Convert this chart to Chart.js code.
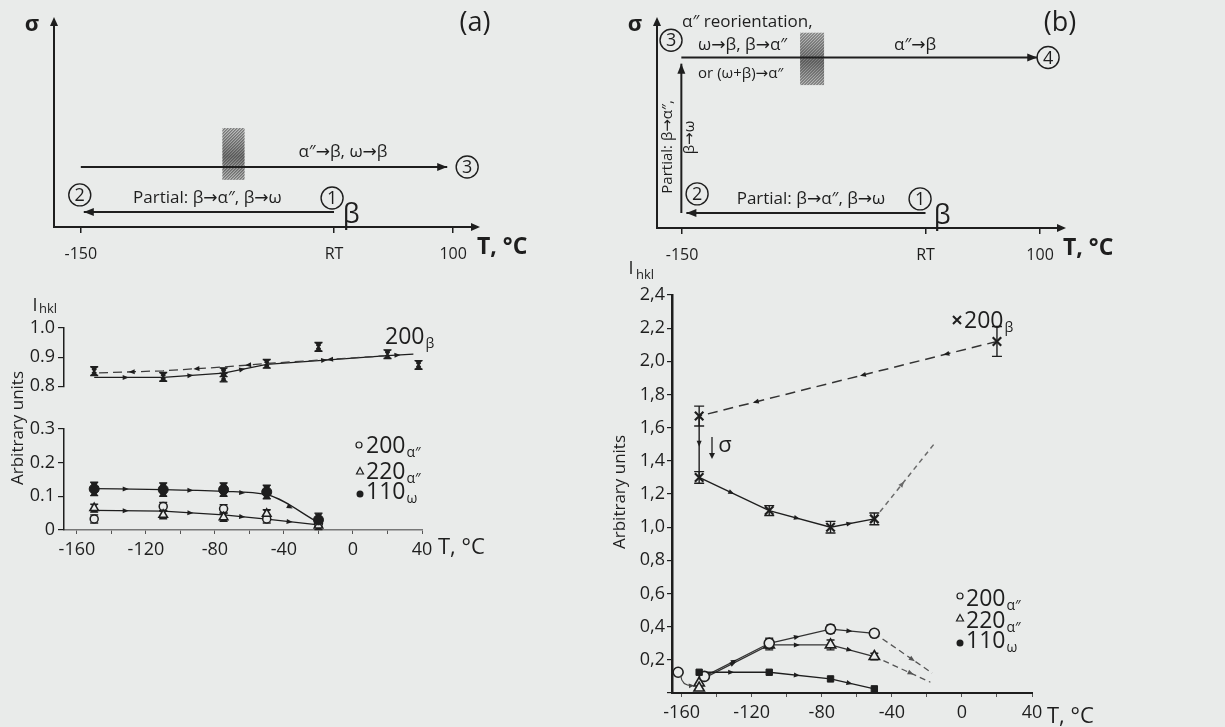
<!DOCTYPE html>
<html>
<head>
<meta charset="utf-8">
<script src="https://cdn.jsdelivr.net/npm/chart.js@4.4.1/dist/chart.umd.min.js"></script>
<style>
  html, body { margin:0; padding:0; }
  body { width:1225px; height:727px; background:#e9ebea; position:relative; overflow:hidden; }
  canvas { position:absolute; }
</style>
</head>
<body>
<canvas id="cA" width="600" height="270" style="left:0px;top:0px"></canvas>
<canvas id="cB" width="625" height="270" style="left:600px;top:0px"></canvas>
<canvas id="cLU" width="600" height="110" style="left:0px;top:290px"></canvas>
<canvas id="cLL" width="600" height="290" style="left:0px;top:290px"></canvas>
<canvas id="cR" width="625" height="472" style="left:600px;top:255px"></canvas>
<script>
const FONT = "'Open Sans', 'DejaVu Sans', sans-serif";
const INK = '#1e1e1e';
const BG = '#e9ebea';

// ---------- schematic panels (a) and (b): temperature T vs stress sigma (arbitrary)
const schemTickT = [-150, 20, 100];
const schemTickLabels = ['-150', 'RT', '100'];
const aCoolT = [20, -148];        const aCoolS = [0.72, 0.72];
const aHeatT = [-150, 96];        const aHeatS = [2.9, 2.9];
const bCoolT = [20, -147];        const bCoolS = [0.72, 0.72];
const bLoadT = [-150.5, -150.5];  const bLoadS = [0.72, 7.9];
const bHeatT = [-150.5, 98];      const bHeatS = [8.2, 8.2];

// ---------- bottom-left plot (strain-free)
const tTicks = [-160,-140,-120,-100,-80,-60,-40,-20,0,20,40];
const tTickLabels = ['-160','','-120','','-80','','-40','','0','','40'];
const luTicks = [0.8, 0.9, 1.0];      const luTickLabels = ['0.8','0.9','1.0'];
const llTicks = [0, 0.1, 0.2, 0.3];   const llTickLabels = ['0','0.1','0.2','0.3'];
const lBetaPtT = [-150,-110,-75,-75,-50,-20,20,38];
const lBetaPtI = [0.852,0.832,0.848,0.830,0.877,0.935,0.910,0.873];
const lBetaCoolT = [20,-50,-75,-110,-150];
const lBetaCoolI = [0.905,0.878,0.866,0.853,0.845];
const lBetaHeatT = [-150,-110,-75,-50,20,35];
const lBetaHeatI = [0.830,0.830,0.845,0.875,0.905,0.910];
const lOmegaT = [-150,-110,-75,-50,-20];
const lOmegaI = [0.122,0.120,0.120,0.113,0.030];
const lOmegaLineI = [0.123,0.120,0.115,0.105,0.022];
const lA200T = [-150,-110,-75,-50,-20];
const lA200I = [0.033,0.070,0.063,0.033,0.020];
const lA220T = [-150,-110,-75,-50,-20];
const lA220I = [0.065,0.045,0.038,0.048,0.013];
const lAlphaLineT = [-150,-110,-75,-50,-20];
const lAlphaLineI = [0.058,0.056,0.045,0.032,0.015];

// ---------- bottom-right plot (constrained)
const rYTicks = [0,0.2,0.4,0.6,0.8,1.0,1.2,1.4,1.6,1.8,2.0,2.2,2.4];
const rYTickLabels = ['','0,2','0,4','0,6','0,8','1,0','1,2','1,4','1,6','1,8','2,0','2,2','2,4'];
const rBetaPtT = [20,-150,-150,-110,-75,-50];
const rBetaPtI = [2.12,1.67,1.30,1.10,1.00,1.05];
const rBetaErr = [0.09,0.06,0.035,0.03,0.035,0.035];
const rBetaCoolT = [20,-150];             const rBetaCoolI = [2.12,1.67];
const rBetaLoadT = [-150,-150];           const rBetaLoadI = [1.67,1.30];
const rBetaHeatT = [-150,-110,-75,-50];   const rBetaHeatI = [1.30,1.10,1.00,1.05];
const rBetaHeat2T = [-50,-16];            const rBetaHeat2I = [1.05,1.50];
const rOmegaT = [-150,-110,-75,-50];      const rOmegaI = [0.125,0.125,0.085,0.025];
const rA200PtT = [-162,-147,-110,-75,-50]; const rA200PtI = [0.125,0.10,0.30,0.385,0.36];
const rA200Err = [0,0.012,0.03,0.025,0.02];
const rA200LineT = [-147,-110,-75,-50];   const rA200LineI = [0.10,0.30,0.385,0.36];
const rA200DashT = [-50,-17];             const rA200DashI = [0.36,0.12];
const rA220PtT = [-150,-150,-110,-75,-50]; const rA220PtI = [0.06,0.03,0.29,0.29,0.22];
const rA220Err = [0,0,0.03,0.03,0.02];
const rA220LineT = [-148,-110,-75,-50];   const rA220LineI = [0.085,0.29,0.29,0.22];
const rA220DashT = [-50,-18];             const rA220DashI = [0.22,0.065];

// ---------- helpers
const pts = (xs, ys) => xs.map((x, i) => ({ x, y: ys[i] }));

function head(ctx, x, y, ang, len, half) {
  ctx.save(); ctx.translate(x, y); ctx.rotate(ang);
  ctx.beginPath(); ctx.moveTo(0, 0); ctx.lineTo(-len, -half); ctx.lineTo(-len, half); ctx.closePath(); ctx.fill();
  ctx.restore();
}
function txt(ctx, s, px, py, size, align, bold, rot) {
  ctx.save(); ctx.translate(px, py); if (rot) ctx.rotate(rot * Math.PI / 180);
  ctx.font = (bold ? 'bold ' : '') + size + 'px ' + FONT;
  ctx.textAlign = align || 'center'; ctx.textBaseline = 'middle'; ctx.fillStyle = INK;
  ctx.fillText(s, 0, 0); ctx.restore();
}
function subTxt(ctx, main, sub, px, py, size, subSize) {
  ctx.save(); ctx.fillStyle = INK; ctx.textAlign = 'left'; ctx.textBaseline = 'alphabetic';
  ctx.font = size + 'px ' + FONT; const base = py + size * 0.36;
  ctx.fillText(main, px, base); const w = ctx.measureText(main).width;
  ctx.font = subSize + 'px ' + FONT; ctx.fillText(sub, px + w + 1, base + subSize * 0.3);
  ctx.restore();
}
function mark(ctx, kind, px, py) {
  ctx.save(); ctx.strokeStyle = INK; ctx.fillStyle = INK; ctx.lineWidth = 1.2;
  ctx.beginPath();
  if (kind === 'circle') { ctx.arc(px, py, 3, 0, 7); ctx.stroke(); }
  if (kind === 'tri') { ctx.moveTo(px, py - 3.5); ctx.lineTo(px + 3.5, py + 3); ctx.lineTo(px - 3.5, py + 3); ctx.closePath(); ctx.stroke(); }
  if (kind === 'dot') { ctx.arc(px, py, 3.5, 0, 7); ctx.fill(); }
  if (kind === 'x') { ctx.lineWidth = 2; ctx.moveTo(px - 4, py - 4); ctx.lineTo(px + 4, py + 4); ctx.moveTo(px + 4, py - 4); ctx.lineTo(px - 4, py + 4); ctx.stroke(); }
  ctx.restore();
}
function circled(ctx, px, py, n) {
  ctx.save(); ctx.beginPath(); ctx.arc(px, py, 11, 0, 2 * Math.PI);
  ctx.lineWidth = 1.4; ctx.strokeStyle = INK; ctx.stroke(); ctx.restore();
  txt(ctx, n, px, py + 1, 18);
}
function hatch(ctx, x0, y0, x1, y1) {
  ctx.save(); ctx.beginPath(); ctx.rect(x0, y0, x1 - x0, y1 - y0); ctx.clip();
  ctx.fillStyle = 'rgba(140,140,140,0.35)'; ctx.fillRect(x0, y0, x1 - x0, y1 - y0);
  const g = ctx.createLinearGradient(0, y0, 0, y1);
  g.addColorStop(0, 'rgba(80,80,80,0.05)'); g.addColorStop(0.55, 'rgba(60,60,60,0.55)'); g.addColorStop(1, 'rgba(80,80,80,0.1)');
  ctx.fillStyle = g; ctx.fillRect(x0, y0, x1 - x0, y1 - y0);
  ctx.strokeStyle = 'rgba(40,40,40,0.7)'; ctx.lineWidth = 1;
  const h = y1 - y0; ctx.beginPath();
  for (let k = -h; k < (x1 - x0) + h; k += 3) { ctx.moveTo(x0 + k, y1); ctx.lineTo(x0 + k + h, y0); }
  ctx.stroke(); ctx.restore();
}

// error bars, mid-line arrows, end arrows
const decoPlugin = {
  id: 'deco',
  beforeDatasetsDraw(chart) {
    const { ctx } = chart; const xs = chart.scales.x, ys = chart.scales.y;
    chart.data.datasets.forEach(ds => {
      if (!ds.err) return;
      ctx.save(); ctx.strokeStyle = INK; ctx.fillStyle = INK; ctx.lineWidth = 1.4;
      ds.data.forEach((p, j) => {
        const e = ds.err[j]; if (!e) return;
        const px = xs.getPixelForValue(p.x), py = ys.getPixelForValue(p.y);
        const t = ys.getPixelForValue(p.y + e), b = ys.getPixelForValue(p.y - e);
        const c = ds.cap || 4;
        ctx.beginPath(); ctx.moveTo(px, t); ctx.lineTo(px, b);
        ctx.moveTo(px - c, t); ctx.lineTo(px + c, t); ctx.moveTo(px - c, b); ctx.lineTo(px + c, b); ctx.stroke();
        if (ds.hourglass) {
          ctx.beginPath(); ctx.moveTo(px - c, t); ctx.lineTo(px + c, t); ctx.lineTo(px, py); ctx.closePath();
          ctx.moveTo(px - c, b); ctx.lineTo(px + c, b); ctx.lineTo(px, py); ctx.closePath(); ctx.fill();
        }
      });
      ctx.restore();
    });
  },
  afterDatasetsDraw(chart) {
    const { ctx } = chart;
    chart.data.datasets.forEach((ds, i) => {
      if (!ds.midArrows && !ds.arrowEnd) return;
      const P = chart.getDatasetMeta(i).data.map(e => ({ x: e.x, y: e.y }));
      ctx.save(); ctx.fillStyle = ds.arrowColor || INK;
      if (ds.midArrows) {
        const fr = ds.arrowFracs || [0.5];
        for (let k = 0; k < P.length - 1; k++) {
          const a = P[k], b = P[k + 1];
          if (Math.hypot(b.x - a.x, b.y - a.y) < 22) continue;
          const ang = Math.atan2(b.y - a.y, b.x - a.x);
          fr.forEach(f => head(ctx, a.x + (b.x - a.x) * f, a.y + (b.y - a.y) * f, ang, 6, 2.5));
        }
      }
      if (ds.arrowEnd) {
        const a = P[P.length - 2], b = P[P.length - 1];
        head(ctx, b.x, b.y, Math.atan2(b.y - a.y, b.x - a.x), 10, 4);
      }
      ctx.restore();
    });
  }
};

// ---------- schematic chart builder
function schematic(id, cfg) {
  const schemPlugin = {
    id: 'schem',
    beforeDatasetsDraw(chart) {
      const { ctx, scales: { x, y } } = chart;
      cfg.hatch.forEach(h => hatch(ctx, x.getPixelForValue(h.t0), y.getPixelForValue(h.s1), x.getPixelForValue(h.t1), y.getPixelForValue(h.s0)));
    },
    afterDraw(chart) {
      const { ctx, chartArea: ca, scales: { x, y } } = chart;
      ctx.save(); ctx.fillStyle = INK;
      head(ctx, ca.left, ca.top - 3, -Math.PI / 2, 9, 4);
      head(ctx, ca.right + 3, ca.bottom, 0, 9, 4);
      ctx.restore();
      cfg.texts.forEach(t => txt(ctx, t.t, x.getPixelForValue(t.x), y.getPixelForValue(t.y), t.size, t.align, t.bold, t.rot));
      cfg.circles.forEach(c => circled(ctx, x.getPixelForValue(c.x), y.getPixelForValue(c.y), c.n));
      txt(ctx, 'σ', ca.left - 22, ca.top + 5, 22, 'center', true);
      txt(ctx, cfg.tag, cfg.tagX, ca.top + 3, 27, 'center');
      txt(ctx, 'T, °C', ca.right, ca.bottom + 20, 23, 'left', true);
    }
  };
  return new Chart(document.getElementById(id), {
    type: 'scatter',
    data: { datasets: cfg.lines.map(l => ({ data: pts(l.t, l.s), showLine: true, borderColor: INK, borderWidth: 2, pointRadius: 0, arrowEnd: true })) },
    options: {
      responsive: false, animation: false, events: [],
      layout: { padding: { left: 0, top: 20, right: cfg.padR, bottom: 0 } },
      plugins: { legend: { display: false }, tooltip: { enabled: false } },
      scales: {
        x: { type: 'linear', min: cfg.xmin, max: 116,
             afterBuildTicks: s => { s.ticks = schemTickT.map(v => ({ value: v })); },
             afterFit: s => { s.height = cfg.xh; },
             ticks: { autoSkip: false, maxRotation: 0, callback: (v, i) => schemTickLabels[i], font: { family: FONT, size: 16 }, color: INK, padding: 12 },
             grid: { display: true, drawOnChartArea: false, drawTicks: true, tickLength: 6, color: INK, lineWidth: 1.5 },
             border: { display: true, color: INK, width: 2 } },
        y: { type: 'linear', min: 0, max: 10,
             afterFit: s => { s.width = cfg.yw; },
             ticks: { display: false }, grid: { display: false },
             border: { display: true, color: INK, width: 2 } }
      }
    },
    plugins: [decoPlugin, schemPlugin]
  });
}

schematic('cA', {
  xmin: -168, yw: 54, xh: 43, padR: 123, tag: '(a)', tagX: 475,
  lines: [{ t: aCoolT, s: aCoolS }, { t: aHeatT, s: aHeatS }],
  hatch: [{ t0: -55, t1: -40, s0: 2.27, s1: 4.78 }],
  texts: [
    { t: 'α″→β, ω→β', x: 26, y: 3.62, size: 17 },
    { t: 'Partial: β→α″, β→ω', x: -65, y: 1.4, size: 17 },
    { t: 'β', x: 31.5, y: 0.58, size: 27 }
  ],
  circles: [{ n: '2', x: -150.7, y: 1.55 }, { n: '1', x: 18.7, y: 1.4 }, { n: '3', x: 109.4, y: 2.9 }]
});

schematic('cB', {
  xmin: -167.5, yw: 57, xh: 42, padR: 162, tag: '(b)', tagX: 460,
  lines: [{ t: bCoolT, s: bCoolS }, { t: bLoadT, s: bLoadS }, { t: bHeatT, s: bHeatS }],
  hatch: [{ t0: -67.6, t1: -50.8, s0: 6.86, s1: 9.4 }],
  texts: [
    { t: 'α″ reorientation,', x: -150, y: 9.9, size: 17, align: 'left' },
    { t: 'ω→β, β→α″', x: -138.8, y: 8.8, size: 17, align: 'left' },
    { t: 'or (ω+β)→α″', x: -138.8, y: 7.44, size: 15, align: 'left' },
    { t: 'α″→β', x: 12.7, y: 8.8, size: 17 },
    { t: 'Partial: β→α″, β→ω', x: -60, y: 1.4, size: 17 },
    { t: 'β', x: 31.6, y: 0.58, size: 27 },
    { t: 'Partial: β→α″,', x: -159.8, y: 3.9, size: 15, rot: -90 },
    { t: 'β→ω', x: -144.4, y: 4.35, size: 15, rot: -90 }
  ],
  circles: [{ n: '3', x: -157.7, y: 9.03 }, { n: '4', x: 105.6, y: 8.2 }, { n: '2', x: -139.5, y: 1.64 }, { n: '1', x: 16.2, y: 1.4 }]
});

// ---------- plot options builder
function plotOpts(o) {
  return {
    responsive: false, animation: false, events: [],
    layout: { padding: o.padding },
    plugins: { legend: { display: false }, tooltip: { enabled: false } },
    scales: {
      x: { type: 'linear', min: o.xmin, max: o.xmax, display: o.xDisplay,
           afterBuildTicks: s => { s.ticks = tTicks.map(v => ({ value: v })); },
           afterFit: s => { if (o.xHeight) s.height = o.xHeight; },
           ticks: { autoSkip: false, maxRotation: 0, callback: (v, i) => tTickLabels[i], font: { family: FONT, size: 18 }, color: INK, padding: o.xPad },
           grid: { drawOnChartArea: false, tickLength: 4, color: '#555', lineWidth: 1 },
           border: { color: o.xBorder, width: o.xBorderW, dash: o.xDash } },
      y: { type: 'linear', min: o.ymin, max: o.ymax,
           afterBuildTicks: s => { s.ticks = o.yTicks.map(v => ({ value: v })); },
           afterFit: s => { s.width = o.yWidth; },
           ticks: { autoSkip: false, callback: (v, i) => o.yLabels[i], font: { family: FONT, size: 18 }, color: INK, padding: o.yPad },
           grid: { drawOnChartArea: false, tickLength: o.yTickLen, color: INK, lineWidth: 1.2 },
           border: { color: o.yBorder, width: o.yBorderW, dash: o.yDash } }
    }
  };
}

// ---------- bottom-left upper (200 beta)
new Chart(document.getElementById('cLU'), {
  type: 'scatter',
  data: { datasets: [
    { data: pts(lBetaPtT, lBetaPtI), err: lBetaPtT.map(() => 0.015), hourglass: true, pointStyle: 'crossRot', pointRadius: 3, borderColor: INK, borderWidth: 1.5, order: 0 },
    { data: pts(lBetaCoolT, lBetaCoolI), showLine: true, borderDash: [9, 5], borderColor: '#3c3c3c', borderWidth: 1.3, pointRadius: 0, midArrows: true, order: 1 },
    { data: pts(lBetaHeatT, lBetaHeatI), showLine: true, borderColor: INK, borderWidth: 1.3, pointRadius: 0, midArrows: true, order: 1 }
  ] },
  options: plotOpts({ padding: { left: 0, top: 38, right: 178, bottom: 5 }, xmin: -167.5, xmax: 40, xDisplay: false,
    ymin: 0.8, ymax: 1.0, yTicks: luTicks, yLabels: luTickLabels, yWidth: 64, yPad: 3, yTickLen: 6,
    yBorder: INK, yBorderW: 1.5, xBorder: '#666', xBorderW: 1 }),
  plugins: [decoPlugin]
});

// ---------- bottom-left lower
const leftText = {
  id: 'leftText',
  afterDraw(chart) {
    const ctx = chart.ctx;
    txt(ctx, 'I', 35, 16, 18, 'center');
    txt(ctx, 'hkl', 48, 19, 13, 'center');
    txt(ctx, 'Arbitrary units', 18, 138, 17, 'center', false, -90);
    subTxt(ctx, '200', 'β', 385, 46, 23, 14);
    mark(ctx, 'circle', 359, 155); subTxt(ctx, '200', 'α″', 366, 155, 23, 14);
    mark(ctx, 'tri', 360, 181);    subTxt(ctx, '220', 'α″', 366, 181, 23, 14);
    mark(ctx, 'dot', 360, 204);    subTxt(ctx, '110', 'ω', 366, 201, 23, 14);
    txt(ctx, 'T, °C', 438, 258, 22, 'left');
  }
};
new Chart(document.getElementById('cLL'), {
  type: 'scatter',
  data: { datasets: [
    { data: pts(lOmegaT, lOmegaI), err: lOmegaT.map(() => 0.02), hourglass: true, pointStyle: 'circle', pointRadius: 5, backgroundColor: INK, borderColor: INK, order: 0 },
    { data: pts(lA220T, lA220I), err: lA220T.map(() => 0.012), hourglass: true, pointStyle: 'triangle', pointRadius: 5, backgroundColor: BG, borderColor: INK, borderWidth: 1.5, order: 0 },
    { data: pts(lA200T, lA200I), err: lA200T.map(() => 0.012), pointStyle: 'circle', pointRadius: 4, backgroundColor: BG, borderColor: INK, borderWidth: 1.5, order: 0 },
    { data: pts(lOmegaT, lOmegaLineI), showLine: true, cubicInterpolationMode: 'monotone', borderColor: INK, borderWidth: 1.3, pointRadius: 0, midArrows: true, order: 1 },
    { data: pts(lAlphaLineT, lAlphaLineI), showLine: true, borderColor: INK, borderWidth: 1.3, pointRadius: 0, midArrows: true, order: 1 }
  ] },
  options: plotOpts({ padding: { left: 0, top: 139, right: 178, bottom: 0 }, xmin: -167.5, xmax: 40, xDisplay: true, xHeight: 50, xPad: 5,
    ymin: 0, ymax: 0.3, yTicks: llTicks, yLabels: llTickLabels, yWidth: 64, yPad: 3, yTickLen: 6,
    yBorder: INK, yBorderW: 1.5, xBorder: '#777', xBorderW: 1.5, xDash: [2, 2] }),
  plugins: [decoPlugin, leftText]
});

// ---------- bottom-right
const rightText = {
  id: 'rightText',
  afterDraw(chart) {
    const ctx = chart.ctx; const { x, y } = chart.scales;
    txt(ctx, 'I', 31, 14, 18, 'center');
    txt(ctx, 'hkl', 45, 20, 13, 'center');
    txt(ctx, 'Arbitrary units', 20, 237, 17, 'center', false, -90);
    ctx.save(); ctx.strokeStyle = INK; ctx.fillStyle = INK; ctx.lineWidth = 1.3;
    ctx.beginPath(); ctx.moveTo(112, 182); ctx.lineTo(112, 200); ctx.stroke();
    head(ctx, 112, 204, Math.PI / 2, 6, 3);
    ctx.restore();
    txt(ctx, 'σ', 125, 191, 22, 'center');
    mark(ctx, 'x', 357, 65);       subTxt(ctx, '200', 'β', 364, 65, 23, 14);
    mark(ctx, 'circle', 360, 341); subTxt(ctx, '200', 'α″', 366, 343, 23, 14);
    mark(ctx, 'tri', 360, 363);    subTxt(ctx, '220', 'α″', 366, 365, 23, 14);
    mark(ctx, 'dot', 360, 388);    subTxt(ctx, '110', 'ω', 366, 385, 23, 14);
    txt(ctx, 'T, °C', 447, 462, 22, 'left');
    ctx.save(); ctx.strokeStyle = '#444'; ctx.fillStyle = '#444'; ctx.lineWidth = 1.1;
    const sx = x.getPixelForValue(-160.5), sy = y.getPixelForValue(0.105);
    const cx = x.getPixelForValue(-160), cy = y.getPixelForValue(0.04);
    const ex = x.getPixelForValue(-153), ey = y.getPixelForValue(0.045);
    ctx.beginPath(); ctx.moveTo(sx, sy); ctx.quadraticCurveTo(cx, cy, ex, ey); ctx.stroke();
    head(ctx, ex, ey, Math.atan2(ey - cy, ex - cx), 5, 2.5);
    ctx.restore();
  }
};
new Chart(document.getElementById('cR'), {
  type: 'scatter',
  data: { datasets: [
    { data: pts(rBetaPtT, rBetaPtI), err: rBetaErr, cap: 5, pointStyle: 'crossRot', pointRadius: 6, borderColor: INK, borderWidth: 2.2, order: 0 },
    { data: pts(rOmegaT, rOmegaI), pointStyle: 'rect', pointRadius: 4.5, backgroundColor: INK, borderColor: INK, order: 0 },
    { data: pts(rA200PtT, rA200PtI), err: rA200Err, pointStyle: 'circle', pointRadius: 5, backgroundColor: BG, borderColor: INK, borderWidth: 1.6, order: 0 },
    { data: pts(rA220PtT, rA220PtI), err: rA220Err, pointStyle: 'triangle', pointRadius: 6, backgroundColor: BG, borderColor: INK, borderWidth: 1.6, order: 0 },
    { data: pts(rBetaCoolT, rBetaCoolI), showLine: true, borderDash: [10, 6], borderColor: '#333', borderWidth: 1.5, pointRadius: 0, midArrows: true, arrowFracs: [0.18, 0.46, 0.82], order: 1 },
    { data: pts(rBetaLoadT, rBetaLoadI), showLine: true, borderColor: INK, borderWidth: 1.4, pointRadius: 0, midArrows: true, order: 1 },
    { data: pts(rBetaHeatT, rBetaHeatI), showLine: true, borderColor: INK, borderWidth: 1.4, pointRadius: 0, midArrows: true, order: 1 },
    { data: pts(rBetaHeat2T, rBetaHeat2I), showLine: true, borderDash: [5, 4], borderColor: '#6a6a6a', borderWidth: 1.5, pointRadius: 0, midArrows: true, arrowColor: '#6a6a6a', order: 1 },
    { data: pts(rOmegaT, rOmegaI), showLine: true, borderColor: INK, borderWidth: 1.4, pointRadius: 0, midArrows: true, order: 1 },
    { data: pts(rA200LineT, rA200LineI), showLine: true, borderColor: '#333', borderWidth: 1.3, pointRadius: 0, midArrows: true, order: 1 },
    { data: pts(rA220LineT, rA220LineI), showLine: true, borderColor: '#333', borderWidth: 1.3, pointRadius: 0, midArrows: true, order: 1 },
    { data: pts(rA200DashT, rA200DashI), showLine: true, borderDash: [6, 4], borderColor: '#555', borderWidth: 1.3, pointRadius: 0, midArrows: true, arrowFracs: [0.7], arrowColor: '#555', order: 1 },
    { data: pts(rA220DashT, rA220DashI), showLine: true, borderDash: [6, 4], borderColor: '#555', borderWidth: 1.3, pointRadius: 0, midArrows: true, arrowFracs: [0.7], arrowColor: '#555', order: 1 }
  ] },
  options: plotOpts({ padding: { left: 0, top: 40, right: 193, bottom: 0 }, xmin: -165.5, xmax: 40, xDisplay: true, xHeight: 34, xPad: 5,
    ymin: 0, ymax: 2.4, yTicks: rYTicks, yLabels: rYTickLabels, yWidth: 72, yPad: 2, yTickLen: 5,
    yBorder: '#1e1e1e', yBorderW: 2.5, yDash: [2, 1.5], xBorder: '#1e1e1e', xBorderW: 2, xDash: [2, 1.5] }),
  plugins: [decoPlugin, rightText]
});
</script>
</body>
</html>
